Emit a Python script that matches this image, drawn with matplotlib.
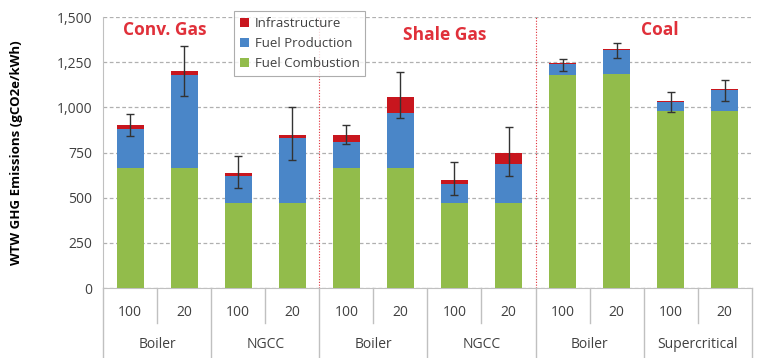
import numpy as np
import matplotlib.pyplot as plt
from matplotlib.transforms import blended_transform_factory

plt.rcParams['font.family'] = ['Open Sans', 'DejaVu Sans']

gwp = ['100', '20', '100', '20', '100', '20', '100', '20', '100', '20', '100', '20']
techs = ['Boiler', 'NGCC', 'Boiler', 'NGCC', 'Boiler', 'Supercritical']
fuels = ['Conv. Gas', 'Shale Gas', 'Coal']

combustion = [665, 665, 470, 472, 665, 665, 470, 470, 1180, 1184, 980, 980]
production = [215, 515, 150, 358, 143, 303, 105, 216, 62, 136, 52, 118]
infrastructure = [20, 20, 16, 17, 39, 89, 23, 61, 4, 4, 4, 4]
err_low = [842, 1063, 553, 708, 797, 940, 515, 620, 1201, 1273, 975, 1035]
err_high = [962, 1340, 730, 1002, 902, 1195, 697, 891, 1267, 1355, 1085, 1151]

c_green = '#92bc4b'
c_blue = '#4a86c8'
c_red = '#c8161e'
c_title = '#e0303a'
c_text = '#404040'

fig = plt.figure(figsize=(7.66, 3.58), dpi=100)
ax = fig.add_axes([0.1345, 0.1955, 0.847, 0.757])

x = np.arange(len(gwp))
w = 0.5
comb = np.array(combustion)
prod = np.array(production)
infra = np.array(infrastructure)
total = comb + prod + infra

b1 = ax.bar(x, comb, w, color=c_green, label='Fuel Combustion', zorder=3)
b2 = ax.bar(x, prod, w, bottom=comb, color=c_blue, label='Fuel Production', zorder=3)
b3 = ax.bar(x, infra, w, bottom=comb + prod, color=c_red, label='Infrastructure', zorder=3)

lo = np.array(err_low)
hi = np.array(err_high)
ax.errorbar(x, total, yerr=[total - lo, hi - total], fmt='none', ecolor='#333333',
            elinewidth=1, capsize=3, capthick=1, zorder=4)

ax.set_xlim(-0.5, 11.5)
ax.set_ylim(0, 1500)
ax.set_yticks(np.arange(0, 1501, 250))
ax.set_yticklabels([f'{v:,}' for v in range(0, 1501, 250)], fontsize=10, color=c_text)
ax.tick_params(axis='y', length=0, pad=8)
ax.set_xticks([])
ax.yaxis.grid(True, linestyle=(0, (3, 2)), color='#b0b0b0', lw=0.9, zorder=0)
for s in ['top', 'right']:
    ax.spines[s].set_visible(False)
ax.spines['left'].set_color('#c0c0c0')
ax.spines['bottom'].set_color('#c0c0c0')

ax.set_ylabel('WTW GHG Emissions (gCO2e/kWh)', fontsize=9.5, fontweight='bold', labelpad=24)

# fuel separators
for xs in [3.5, 7.5]:
    ax.axvline(xs, color=c_title, ls=(0, (1, 1.5)), lw=0.8, zorder=2)

tr = blended_transform_factory(ax.transData, ax.transAxes)
# category axis labels
for i, lab in enumerate(gwp):
    ax.text(i, -0.089, lab, transform=tr, ha='center', va='center', fontsize=10, color=c_text)
for j, lab in enumerate(techs):
    ax.text(2 * j + 0.5, -0.21, lab, transform=tr, ha='center', va='center', fontsize=10, color=c_text)
for k in range(13):
    xs = k - 0.5
    low = -0.13 if k % 2 == 1 else -0.26
    ax.plot([xs, xs], [0, low], transform=tr, color='#c0c0c0', lw=1, clip_on=False)

# fuel titles
for xc, yv, lab in [(0.65, 1428, fuels[0]), (5.82, 1400, fuels[1]), (9.8, 1428, fuels[2])]:
    ax.text(xc, yv, lab, ha='center', va='center', fontsize=12.5, fontweight='bold', color=c_title)

leg = fig.legend(handles=[b3, b2, b1], loc='upper left', bbox_to_anchor=(0.297, 0.988),
                 fontsize=9.5, frameon=True, fancybox=False, edgecolor='#999999',
                 handlelength=0.7, handleheight=0.7, handletextpad=0.4, labelspacing=0.55,
                 borderpad=0.45)
leg.get_frame().set_linewidth(0.8)
for t in leg.get_texts():
    t.set_color(c_text)

fig.savefig('out.png', dpi=100)
